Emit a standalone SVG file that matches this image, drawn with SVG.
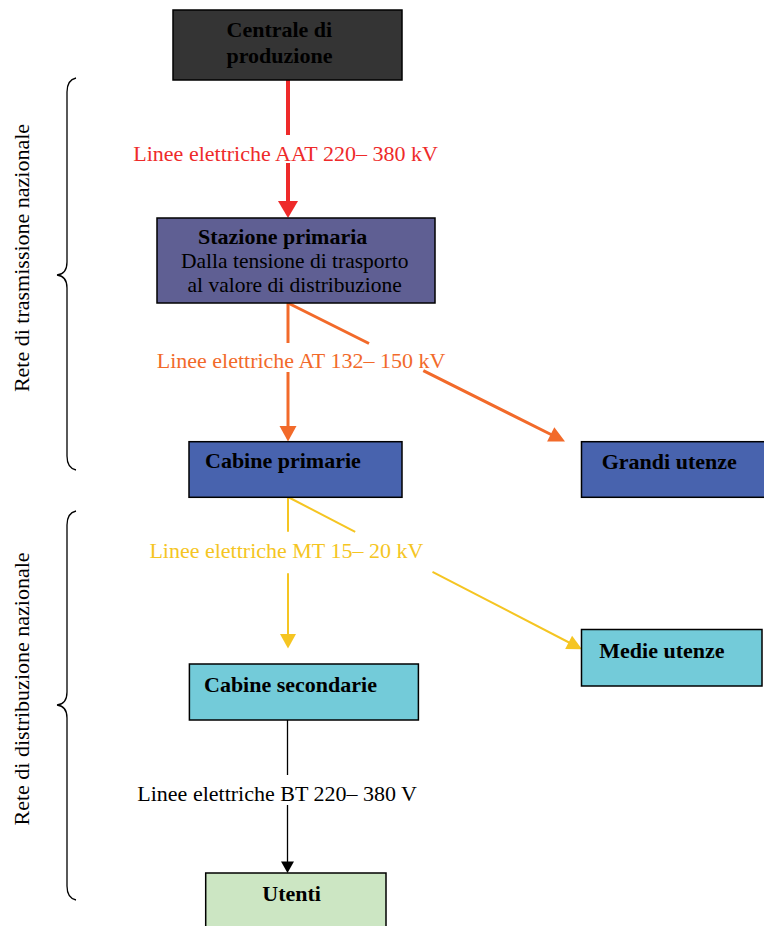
<svg xmlns="http://www.w3.org/2000/svg" width="764" height="926" viewBox="0 0 764 926">
<style>
text{font-family:"Liberation Serif","Times New Roman",serif;font-size:22px;}
.b{font-weight:bold;fill:#000;}
.sub{font-size:21.5px;}
.box{stroke:#000;stroke-width:1.5;}
.brace{fill:none;stroke:#000;stroke-width:1.3;}
.red{stroke:#ee2a2a;stroke-width:4;fill:none;}
.org{stroke:#f26a2a;stroke-width:3;fill:none;}
.yel{stroke:#f5c522;stroke-width:2;fill:none;}
.blk{stroke:#000;stroke-width:1.3;fill:none;}
</style>
<rect width="764" height="926" fill="#fff"/>
<g id="labels-side">
<path class="brace" d="M76,78 Q67,80 67,92 L67,262 Q67,274 57,275 Q67,276 67,288 L67,456 Q67,468 76,470"/>
<path class="brace" d="M76,511 Q67,513 67,525 L67,692 Q67,704 57,705 Q67,706 67,718 L67,886 Q67,898 76,900"/>
<text transform="translate(29,258) rotate(-90)" text-anchor="middle">Rete di trasmissione nazionale</text>
<text transform="translate(29,689) rotate(-90)" text-anchor="middle">Rete di distribuzione nazionale</text>
</g>
<g id="connectors">
<line class="red" x1="288" y1="80" x2="288" y2="135"/>
<line class="red" x1="288" y1="163" x2="288" y2="203"/>
<polygon fill="#ee2a2a" points="278,201 298,201 288,218"/>
<text x="133.3" y="160.7" fill="#ee2a2a">Linee elettriche AAT 220– 380 kV</text>

<line class="org" x1="288" y1="303" x2="288" y2="343"/>
<line class="org" x1="288" y1="372" x2="288" y2="428"/>
<polygon fill="#f26a2a" points="279.5,426 296.5,426 288,441.5"/>
<line class="org" x1="288" y1="303" x2="369" y2="343.5"/>
<line class="org" x1="423.3" y1="370.6" x2="552" y2="435"/>
<polygon fill="#f26a2a" points="565,441.5 547.1,441.5 554.3,427.2"/>
<text x="156.7" y="368.3" fill="#f26a2a">Linee elettriche AT 132– 150 kV</text>

<line class="yel" x1="288" y1="497" x2="288" y2="531.7"/>
<line class="yel" x1="288" y1="573.3" x2="288" y2="636"/>
<polygon fill="#f5c522" points="280,634 296,634 288,648.5"/>
<line class="yel" x1="288" y1="497" x2="355.2" y2="531.8"/>
<line class="yel" x1="432.5" y1="571.9" x2="570" y2="643"/>
<polygon fill="#f5c522" points="582,649.3 565.2,649.1 572.1,635.7"/>
<text x="149.4" y="558.3" fill="#f5c522">Linee elettriche MT 15– 20 kV</text>

<line class="blk" x1="287.5" y1="720" x2="287.5" y2="775"/>
<line class="blk" x1="287.5" y1="805" x2="287.5" y2="863"/>
<polygon fill="#000" points="281,861.5 294,861.5 287.5,873"/>
<text x="137.3" y="800.7" fill="#000">Linee elettriche BT 220– 380 V</text>
</g>
<g id="centrale">
<rect class="box" x="173" y="10" width="229" height="70" fill="#343434"/>
<text class="b"><tspan x="226.5" y="36.7">Centrale di</tspan><tspan x="226.5" y="63.3">produzione</tspan></text>
</g>
<g id="stazione">
<rect class="box" x="157" y="218" width="278" height="85" fill="#5f5f93"/>
<text class="b" x="198" y="243.5">Stazione primaria</text>
<text class="sub" x="181" y="267.8">Dalla tensione di trasporto</text>
<text class="sub" x="187.5" y="291.6">al valore di distribuzione</text>
</g>
<g id="cabine-primarie">
<rect class="box" x="189" y="441.7" width="213" height="55.6" fill="#4863ae"/>
<text class="b" x="205" y="468.3">Cabine primarie</text>
</g>
<g id="grandi-utenze">
<rect class="box" x="581.5" y="441.7" width="200" height="55.6" fill="#4863ae"/>
<text class="b" x="601.7" y="469.3">Grandi utenze</text>
</g>
<g id="medie-utenze">
<rect class="box" x="581.5" y="629.5" width="180.5" height="56.5" fill="#73cbd9"/>
<text class="b" x="599.3" y="658.3">Medie utenze</text>
</g>
<g id="cabine-secondarie">
<rect class="box" x="189.4" y="664" width="229" height="56" fill="#73cbd9"/>
<text class="b" x="204" y="691.7">Cabine secondarie</text>
</g>
<g id="utenti">
<rect class="box" x="205.7" y="873" width="180.3" height="60" fill="#cce6c3"/>
<text class="b" x="262.3" y="900.7">Utenti</text>
</g>
</svg>
